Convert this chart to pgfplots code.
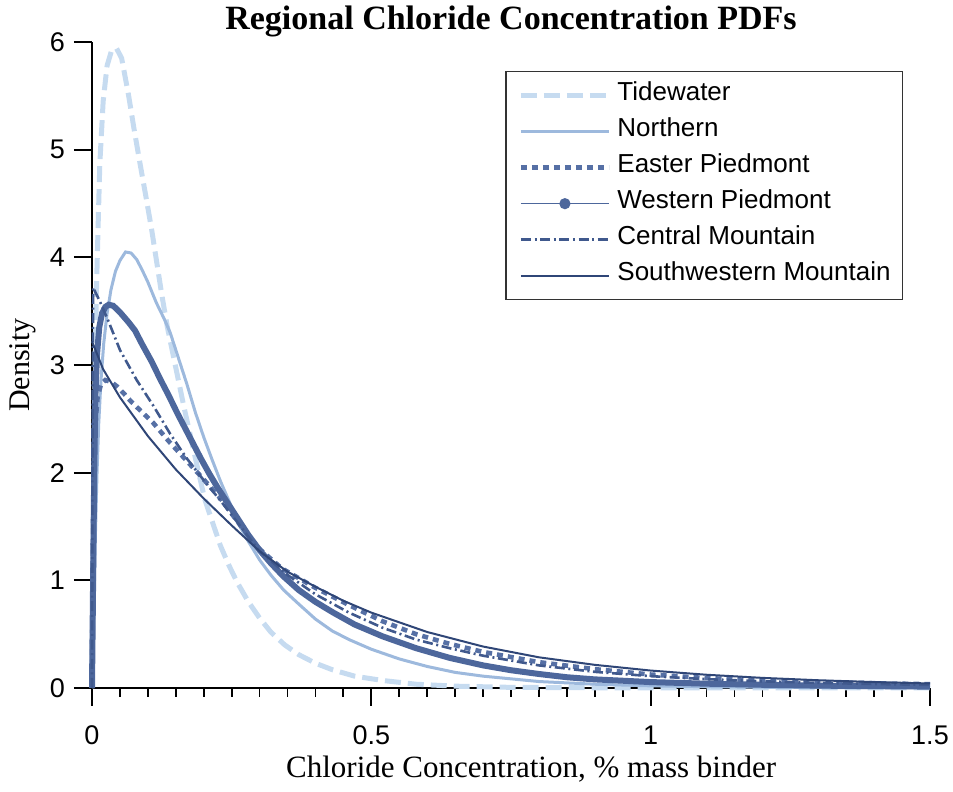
\documentclass[border=0pt]{standalone}
\usepackage{pgfplots}
\pgfplotsset{compat=1.18}
\usepackage{fontspec}
\setmainfont{Liberation Sans}
\newfontfamily\timesf{Liberation Serif}
\definecolor{ctide}{HTML}{C6DBF0}
\definecolor{cnorth}{HTML}{9DB9DD}
\definecolor{ceast}{HTML}{5670A5}
\definecolor{cwest}{HTML}{4D679C}
\definecolor{ccent}{HTML}{40598D}
\definecolor{csw}{HTML}{2F4677}
\begin{document}
\begin{tikzpicture}
\begin{axis}[
  scale only axis, width=419pt, height=323pt,
  xmin=0, xmax=1.5, ymin=0, ymax=6,
  clip=false,
  axis lines=left, axis line style={-, line width=0.9pt, black},
  every tick/.style={line width=0.9pt, black},
  tick align=outside,
  major tick length=9pt, minor tick length=4.5pt,
  xtick={0,0.5,1,1.5}, minor x tick num=9,
  ytick={0,1,2,3,4,5,6}, minor y tick num=0,
  /pgf/number format/assume math mode=true,
  ticklabel style={font=\fontsize{13.5}{16}\selectfont},
  xticklabel style={yshift=-6.5pt},
  yticklabel style={xshift=-1pt},
  every axis title shift=0pt,
  title={\timesf\bfseries Regional Chloride Concentration PDFs},
  title style={font=\fontsize{17}{20}\selectfont, at={(axis description cs:0.5,1.0186)}, anchor=base},
  xlabel={\timesf Chloride Concentration, \% mass binder},
  xlabel style={font=\fontsize{15.5}{18}\selectfont, at={(axis description cs:0.524,-0.1393)}, anchor=base},
  ylabel={\timesf Density},
  ylabel style={font=\fontsize{15}{18}\selectfont, at={(axis description cs:-0.074,0.5)}, anchor=base},
  legend image code/.code={\path (0pt,0pt); \draw[#1] (3pt,0pt) -- (47pt,0pt);},
  legend cell align=left,
  legend style={at={(axis description cs:0.968,0.955)}, anchor=north east,
    draw=black!80, line width=0.6pt, font=\fontsize{13}{15}\selectfont,
    inner xsep=3pt, inner ysep=5pt,
    nodes={inner xsep=3pt, inner ysep=2pt, text height=0.75em, text depth=0.25em},
    row sep=4pt},
]
\addplot[ctide, line width=2.5pt, dash pattern=on 8pt off 3.5pt] coordinates {
(0,0) (0.002,1.2) (0.004,2.4) (0.006,3.2) (0.0084,3.79) (0.011,4.3) (0.014,4.87)
(0.02,5.45) (0.027,5.78) (0.035,5.92) (0.044,5.94) (0.053,5.85) (0.065,5.52)
(0.075,5.2) (0.086,4.87) (0.097,4.55) (0.107,4.25) (0.116,3.95) (0.125,3.65)
(0.135,3.35) (0.145,3.1) (0.155,2.85) (0.165,2.6) (0.178,2.3) (0.19,2.02)
(0.202,1.75) (0.215,1.55) (0.23,1.32) (0.245,1.14) (0.26,0.98) (0.28,0.8)
(0.30,0.65) (0.32,0.52) (0.345,0.4) (0.37,0.31) (0.40,0.23) (0.43,0.17)
(0.47,0.11) (0.52,0.07) (0.58,0.035) (0.65,0.017) (0.75,0.006) (0.9,0.002)
(1.1,0.0) (1.5,0.0)};
\addlegendentry{Tidewater}
\addplot[cnorth, line width=1.5pt] coordinates {
(0,0) (0.003,0.6) (0.006,1.4) (0.009,2.0) (0.012,2.45) (0.016,2.85) (0.021,3.2)
(0.027,3.48) (0.034,3.7) (0.042,3.87) (0.05,3.97) (0.06,4.05) (0.07,4.04)
(0.08,3.98) (0.09,3.88) (0.1,3.77) (0.115,3.58) (0.13,3.42) (0.14,3.3)
(0.155,3.06) (0.17,2.82) (0.185,2.56) (0.2,2.33) (0.215,2.12) (0.23,1.92)
(0.25,1.68) (0.265,1.50) (0.28,1.36) (0.30,1.19) (0.32,1.05) (0.343,0.91)
(0.37,0.78) (0.40,0.64) (0.43,0.53) (0.46,0.45) (0.50,0.36) (0.55,0.27)
(0.60,0.2) (0.65,0.145) (0.7,0.11) (0.8,0.06) (0.9,0.035) (1.0,0.02)
(1.1,0.012) (1.2,0.007) (1.35,0.004) (1.5,0.002)};
\addlegendentry{Northern}
\addplot[ceast, line width=2.3pt, dash pattern=on 3pt off 2.5pt] coordinates {
(0,0) (0.001,1.0) (0.003,1.9) (0.006,2.45) (0.01,2.7) (0.016,2.82) (0.024,2.86)
(0.035,2.84) (0.045,2.8) (0.058,2.73) (0.07,2.66) (0.088,2.57) (0.11,2.46)
(0.136,2.30) (0.166,2.13) (0.196,1.96) (0.23,1.76) (0.267,1.50) (0.30,1.29)
(0.34,1.11) (0.40,0.93) (0.46,0.77) (0.52,0.62) (0.58,0.50) (0.64,0.41)
(0.7,0.335) (0.8,0.24) (0.9,0.175) (1.0,0.125) (1.1,0.092) (1.2,0.07)
(1.3,0.055) (1.4,0.044) (1.5,0.035)};
\addlegendentry{Easter Piedmont}
\addplot[cwest, line width=3pt,
  legend image code/.code={\path (0pt,0pt); \draw[cwest, line width=0.7pt] (3pt,0pt) -- (47pt,0pt);
    \fill[cwest] (25pt,0pt) circle (1.2pt);}] coordinates {
(0,0) (0.002,1.0) (0.004,2.0) (0.006,2.7) (0.009,3.1) (0.013,3.35) (0.018,3.48)
(0.024,3.54) (0.03,3.56) (0.038,3.55) (0.05,3.49) (0.065,3.40) (0.077,3.32)
(0.09,3.19) (0.107,3.03) (0.122,2.87) (0.137,2.72) (0.152,2.56) (0.166,2.42)
(0.18,2.28) (0.195,2.13) (0.21,1.99) (0.225,1.86) (0.24,1.74) (0.26,1.58)
(0.28,1.42) (0.30,1.28) (0.32,1.16) (0.342,1.04) (0.37,0.91) (0.40,0.80)
(0.432,0.70) (0.47,0.59) (0.52,0.48) (0.58,0.37) (0.64,0.28) (0.7,0.21)
(0.75,0.165) (0.8,0.13) (0.85,0.10) (0.9,0.08) (1.0,0.055) (1.1,0.04)
(1.2,0.03) (1.3,0.022) (1.4,0.017) (1.5,0.013)};
\addlegendentry{Western Piedmont}
\addplot[ccent, line width=1.3pt, dash pattern=on 5pt off 1.8pt on 1pt off 1.8pt] coordinates {
(0,0) (0.001,2.5) (0.002,3.72) (0.015,3.58) (0.03,3.40) (0.05,3.14) (0.08,2.86)
(0.11,2.62) (0.14,2.36) (0.17,2.13) (0.2,1.93) (0.23,1.74) (0.26,1.54)
(0.3,1.27) (0.35,1.05) (0.4,0.87) (0.46,0.70) (0.52,0.56) (0.58,0.45)
(0.64,0.37) (0.7,0.30) (0.8,0.21) (0.9,0.15) (1.0,0.11) (1.1,0.082)
(1.2,0.062) (1.3,0.048) (1.4,0.037) (1.5,0.029)};
\addlegendentry{Central Mountain}
\addplot[csw, line width=1pt] coordinates {
(0,3.22) (0.02,2.96) (0.05,2.70) (0.1,2.34) (0.15,2.03) (0.2,1.76) (0.25,1.51)
(0.3,1.27) (0.35,1.08) (0.4,0.94) (0.45,0.81) (0.5,0.70) (0.6,0.52)
(0.7,0.385) (0.8,0.285) (0.9,0.215) (1.0,0.162) (1.1,0.123) (1.2,0.094)
(1.3,0.072) (1.4,0.055) (1.5,0.042)};
\addlegendentry{Southwestern Mountain}
\end{axis}
\pgfresetboundingbox
\path (-46pt,-52pt) rectangle (430.5pt,344pt);
\end{tikzpicture}
\end{document}
